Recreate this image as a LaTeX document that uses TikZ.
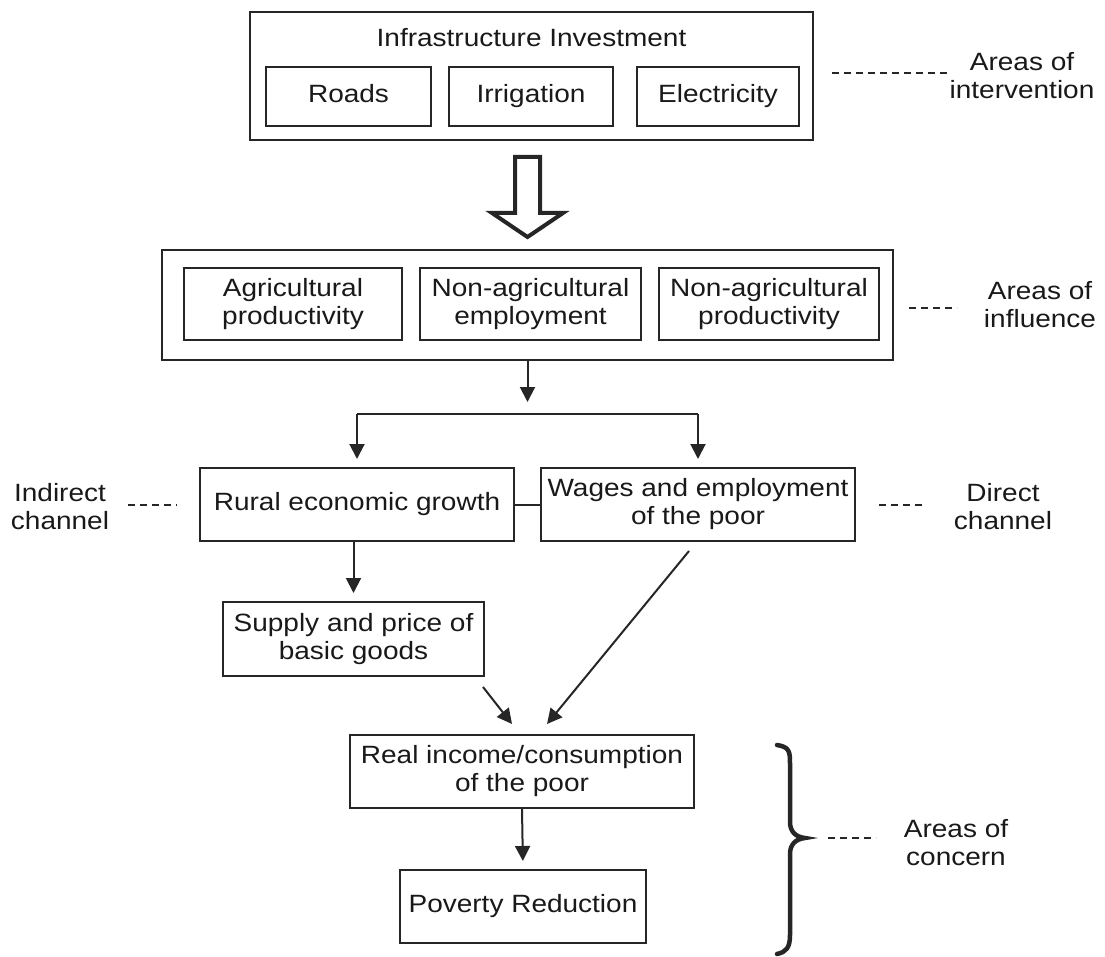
\documentclass[tikz,border=0pt]{standalone}
\usepackage{fontspec}
\setmainfont{Liberation Sans}[FakeStretch=1.12]
\usetikzlibrary{arrows.meta}

\begin{document}
\begin{tikzpicture}[x=1pt,y=-1pt,
  every node/.style={font=\fontsize{25}{28}\selectfont, text=black!90},
  box/.style={draw=black!85, line width=2pt, inner sep=0pt, align=center},
  item/.style={box, minimum height=59pt, text height=18pt, text depth=5pt},
  note/.style={inner sep=0pt, align=center},
  link/.style={draw=black!85, line width=2pt},
  dashlink/.style={draw=black!85, line width=2pt, dash pattern=on 7pt off 5pt},
  flow/.style={draw=black!85, line width=2pt, -{Triangle[length=15pt,width=15pt]}}]
  \useasboundingbox (0,0) rectangle (1105,957);

  % areas of intervention
  \node[box, minimum width=563pt, minimum height=128pt] (invest) at (531.5,76) {};
  \node[note, anchor=base] (investtitle) at (531.5,47) {Infrastructure Investment};
  \node[item, minimum width=165pt] (roads) at (348.5,96.5) {Roads};
  \node[item, minimum width=164pt] (irrig) at (531,96.5) {Irrigation};
  \node[item, minimum width=162pt] (elec) at (718,96.5) {Electricity};
  \coordinate (intdashA) at (832,73);
  \coordinate (intdashB) at (947,73);
  \draw[dashlink] (intdashA) -- (intdashB);
  \node[note] (intervention) at (1022,76) {Areas of\\intervention};

  % hollow arrow
  \draw[black!85, line width=4pt, line join=miter] (515,157) -- (540,157) -- (540,213)
    -- (563,213) -- (527.5,237) -- (492,213) -- (515,213) -- cycle;

  % areas of influence
  \node[box, minimum width=731pt, minimum height=110pt] (influence) at (527.5,305) {};
  \node[box, minimum width=218pt, minimum height=72pt] (agri) at (293,304) {Agricultural\\productivity};
  \node[box, minimum width=221pt, minimum height=72pt] (nonempl) at (530.5,304) {Non-agricultural\\employment};
  \node[box, minimum width=220pt, minimum height=72pt] (nonprod) at (769,304) {Non-agricultural\\productivity};
  \coordinate (infdashA) at (909,308);
  \coordinate (infdashB) at (957,308);
  \draw[dashlink] (infdashA) -- (infdashB);
  \node[note] (influlabel) at (1040,305) {Areas of\\influence};

  % channels
  \node[box, minimum width=314pt, minimum height=73pt] (rural) at (357,504.5) {Rural economic growth};
  \node[box, minimum width=314pt, minimum height=73pt] (wages) at (698,504.5) {Wages and employment\\of the poor};
  \coordinate (splitend) at (527.5,402);
  \coordinate (split) at (527.5,414);
  \draw[flow] (influence.south) -- (splitend);
  \draw[link] (split -| rural.north) -- (split -| wages.north);
  \draw[flow] (split -| rural.north) -- ([yshift=8pt]rural.north);
  \draw[flow] (split -| wages.north) -- ([yshift=8pt]wages.north);
  \draw[link] (rural.east) -- (wages.west);

  \coordinate (inddashA) at (128,505);
  \coordinate (inddashB) at (177,505);
  \draw[dashlink] (inddashA) -- (inddashB);
  \node[note] (indirect) at (60,507) {Indirect\\channel};
  \coordinate (dirdashA) at (879,505);
  \coordinate (dirdashB) at (926,505);
  \draw[dashlink] (dirdashA) -- (dirdashB);
  \node[note] (direct) at (1003,507) {Direct\\channel};

  % areas of concern
  \node[box, minimum width=261pt, minimum height=74pt] (supply) at (353.5,639) {Supply and price of\\basic goods};
  \node[box, minimum width=344pt, minimum height=73pt] (realinc) at (522,771.5) {Real income/consumption\\of the poor};
  \node[box, minimum width=246pt, minimum height=73pt] (poverty) at (523,906.5) {Poverty Reduction};
  \draw[flow, shorten >=8pt] (rural.south -| supply.north) -- (supply.north);
  \draw[flow] ([shift={(-2pt,-10pt)}]supply.south east) -- ([shift={(-10pt,10pt)}]realinc.north);
  \draw[flow] ([shift={(-9pt,-9pt)}]wages.south) -- ([shift={(25pt,10pt)}]realinc.north);
  \draw[flow, shorten >=8pt] (realinc.south) -- (poverty.north);

  \draw[black!85, line width=4.5pt, line cap=round] (777,745) .. controls (790,747) and (790,752) .. (790,765)
    -- (790,822) .. controls (790,832) and (796,837) .. (805,838)
    .. controls (796,839) and (790,844) .. (790,854)
    -- (790,935) .. controls (790,948) and (786,952) .. (777,954);
  \coordinate (condashA) at (828,838);
  \coordinate (condashB) at (876,838);
  \draw[dashlink] (condashA) -- (condashB);
  \node[note] (concern) at (956,843) {Areas of\\concern};
\end{tikzpicture}
\end{document}
